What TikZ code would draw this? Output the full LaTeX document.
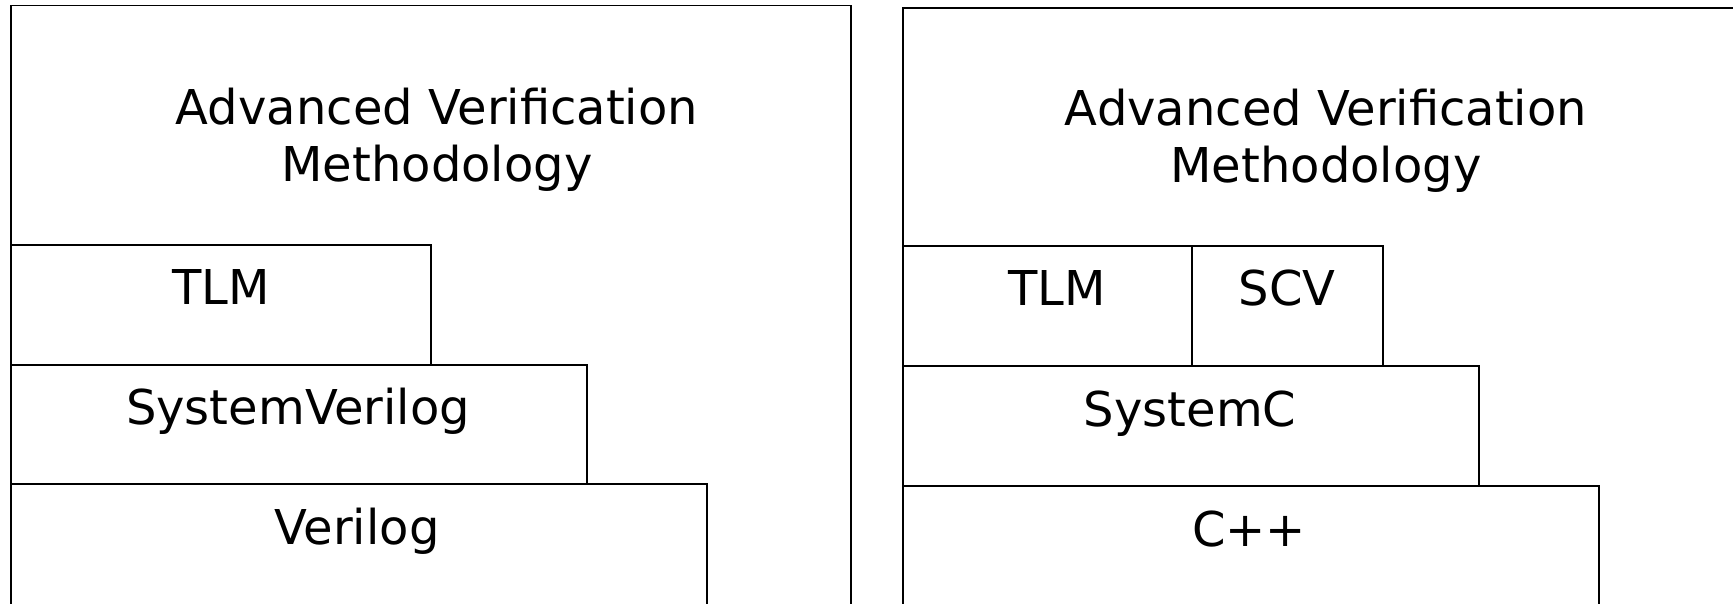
\documentclass[tikz,border=0pt]{standalone}
\usepackage{fontspec}
\setmainfont{DejaVu Sans}
\tikzset{
	lbl/.style={anchor=base, inner sep=0pt, font=\fontsize{24}{28.5}\selectfont},
	ttl/.style={anchor=north, inner sep=0pt, align=center, font=\fontsize{24}{28.5}\selectfont},
	lay/.style={line width=0.8pt}
}
\begin{document}
\begin{tikzpicture}[x=0.5pt, y=-0.5pt]
			%%%%% START %%%%%
			\useasboundingbox (0, 0) rectangle (1733, 604);
			\clip (0, 0) rectangle (1733, 604);
			
			% left stack
			\draw[lay] (11, 5.5) rectangle (851, 640);
			\node[ttl] (avmL) at (437, 88) {Advanced Verification\\Methodology};
			
			\draw[lay] (11, 245) rectangle (431, 365);
			\node[lbl] (tlmL) at (221, 304) {TLM};
			
			\draw[lay] (11, 365) rectangle (587, 484);
			\node[lbl] (svL) at (298, 424) {SystemVerilog};
			
			\draw[lay] (11, 484) rectangle (707, 640);
			\node[lbl] (verL) at (357, 544) {Verilog};
			
			% right stack
			\draw[lay] (903, 8) rectangle (1760, 640);
			\node[ttl] (avmR) at (1326, 89) {Advanced Verification\\Methodology};
			
			\draw[lay] (903, 246) rectangle (1192, 366);
			\node[lbl] (tlmR) at (1057, 305) {TLM};
			
			\draw[lay] (1192, 246) rectangle (1383, 366);
			\node[lbl] (scvR) at (1287, 305) {SCV};
			
			\draw[lay] (903, 366) rectangle (1479, 486);
			\node[lbl] (scR) at (1190, 426) {SystemC};
			
			\draw[lay] (903, 486) rectangle (1599, 640);
			\node[lbl] (cppR) at (1249, 546) {C++};
			
			%%%%% END %%%%%
\end{tikzpicture}
\end{document}
